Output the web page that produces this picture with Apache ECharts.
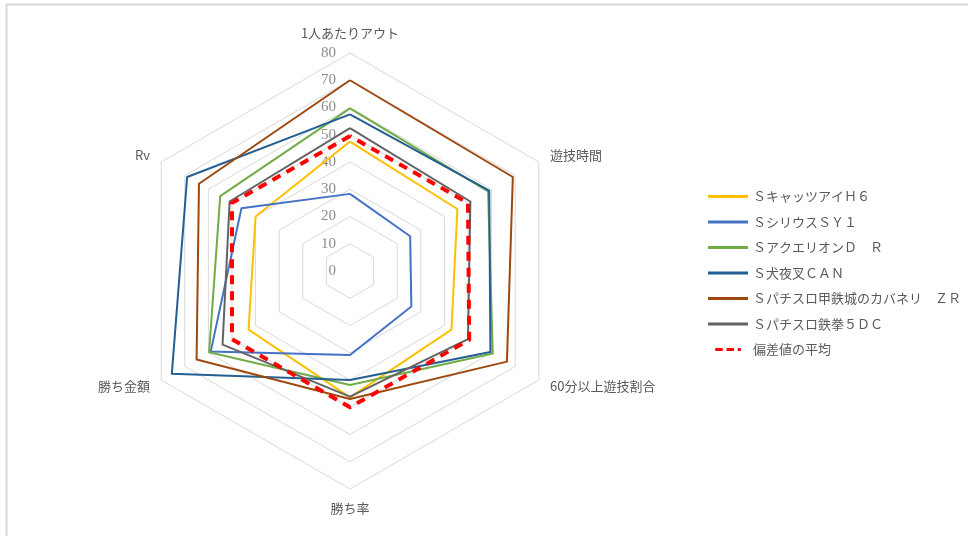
<!DOCTYPE html>
<html>
<head>
<meta charset="utf-8">
<script src="https://cdn.jsdelivr.net/npm/echarts@6/dist/echarts.min.js"></script>
<style>
  html, body { margin: 0; padding: 0; background: #fff; }
  #chart { width: 968px; height: 536px; }
</style>
</head>
<body>
<div id="chart"></div>
<script>
// 軸は上から時計回り
const indicatorNames = ['1人あたりアウト', '遊技時間', '60分以上遊技割合', '勝ち率', '勝ち金額', 'Rv'];

const seriesNames = [
    'ＳキャッツアイＨ６',
    'ＳシリウスＳＹ１',
    'ＳアクエリオンＤ　Ｒ',
    'Ｓ犬夜叉ＣＡＮ',
    'Ｓパチスロ甲鉄城のカバネリ　ＺＲ',
    'Ｓパチスロ鉄拳５ＤＣ',
    '偏差値の平均'
];

const catsEye = [47.5, 45.5, 43, 46.4, 43, 40];
const sirius = [28.3, 25.5, 26, 30.8, 59, 46];
const aquarion = [59.7, 58.5, 60.5, 41.8, 59.7, 55];
const inuyasha = [57.5, 59, 59.5, 40, 75.5, 69];
const kabaneri = [70, 69, 66.5, 47, 65, 64];
const tekken = [52.4, 51, 50, 46.1, 54, 51];
const average = [49.5, 50, 50.5, 50, 50, 50];

const seriesColors = ['#FFC000', '#4472C4', '#70AD47', '#255E91', '#9E480E', '#636363', '#FF0000'];

const chart = echarts.init(document.getElementById('chart'));

const textColor = '#595959';
const fontFamily = '"Noto Sans CJK JP", "Noto Sans", sans-serif';

// ECharts のレーダーは反時計回りなので並べ替える
const order = [0, 5, 4, 3, 2, 1];
const reorder = arr => order.map(i => arr[i]);

const indicators = reorder(indicatorNames).map((name, i) => {
    const ind = { name: name, min: 0, max: 80 };
    // 目盛ラベルは一番上の軸だけ
    if (i === 0) {
        ind.axisLabel = {
            show: true,
            color: '#8C8C8C',
            fontSize: 15,
            fontFamily: '"Liberation Serif", serif',
            margin: 14,
            formatter: v => String(v)
        };
    }
    return ind;
});

const dataArrays = [catsEye, sirius, aquarion, inuyasha, kabaneri, tekken, average];

const series = dataArrays.map((arr, i) => ({
    name: seriesNames[i],
    type: 'radar',
    symbol: 'none',
    z: i === 6 ? 10 : 2,
    lineStyle: {
        color: seriesColors[i],
        width: i === 6 ? 4 : 2,
        type: i === 6 ? [9, 7] : 'solid'
    },
    itemStyle: { color: seriesColors[i] },
    data: [{ value: reorder(arr), name: seriesNames[i] }]
}));

const option = {
    backgroundColor: '#ffffff',
    animation: false,
    graphic: [{
        type: 'rect',
        shape: { x: 6.5, y: 4.5, width: 1000, height: 600 },
        style: { fill: 'none', stroke: '#D9D9D9', lineWidth: 2 }
    }],
    legend: {
        orient: 'vertical',
        left: 703,
        top: 185,
        itemWidth: 40,
        itemHeight: 3,
        itemGap: 12.5,
        icon: 'rect',
        textStyle: { color: textColor, fontSize: 13, fontFamily: fontFamily },
        data: seriesNames.map((n, i) => i === 6
            ? { name: n, icon: 'path://M0,0 H10 V4 H0 Z M15,0 H25 V4 H15 Z M30,0 H34 V4 H30 Z' }
            : { name: n })
    },
    radar: {
        center: [350, 271],
        radius: 218,
        startAngle: 90,
        splitNumber: 8,
        shape: 'polygon',
        indicator: indicators,
        axisName: { color: textColor, fontSize: 13, fontFamily: fontFamily },
        nameGap: 13,
        axisLine: { show: false },
        axisTick: { show: false },
        axisLabel: { show: false },
        splitLine: { lineStyle: { color: '#D9D9D9', width: 1 } },
        splitArea: { show: false }
    },
    series: series
};

chart.setOption(option);
</script>
</body>
</html>
